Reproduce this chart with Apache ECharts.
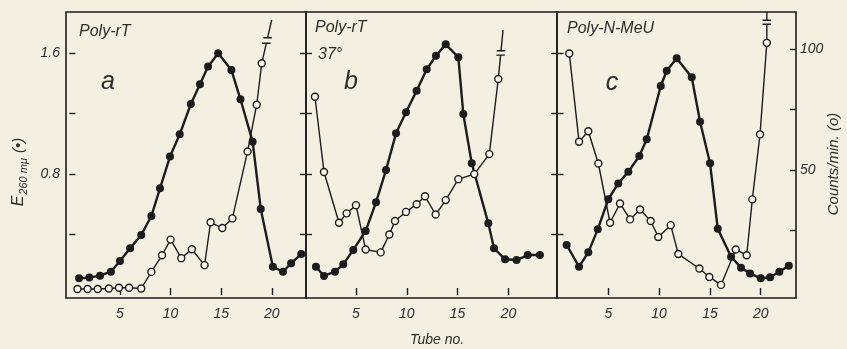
<!DOCTYPE html>
<html>
<head>
<meta charset="utf-8">
<script src="https://cdn.jsdelivr.net/npm/echarts@6/dist/echarts.min.js"></script>
<style>
html,body{margin:0;padding:0;background:#f3efe1;}
#c{width:847px;height:349px;}
</style>
</head>
<body>
<div id="c"></div>
<script>
// ---------- DATA ----------
const tubeTicks = [5, 10, 15, 20];
const eTicks = [0.4, 0.8, 1.2, 1.6];
const eTickLabels = [0.8, 1.6];
const countTicks = [25, 50, 75, 100];
const countTickLabels = [50, 100];

// Panel a: Poly-rT
const aTubeE = [0.96,1.97,3.03,4.1,5.0,6.0,7.1,8.1,8.95,9.94,10.9,12.0,12.9,13.7,14.7,16.0,16.9,18.1,18.9,20.1,21.1,21.9,22.9];
const aE     = [0.11,0.115,0.128,0.154,0.225,0.309,0.397,0.522,0.705,0.915,1.062,1.263,1.393,1.51,1.598,1.488,1.294,1.014,0.569,0.187,0.154,0.21,0.271];
const aTubeC = [0.8,1.8,2.8,3.9,4.9,5.9,7.1,8.1,9.15,10.0,11.05,12.1,13.35,13.95,15.1,16.1,17.6,18.5,19.0];
const aC     = [0.5,0.5,0.5,0.7,1.0,1.0,0.7,7.6,14.5,21,13.3,17,10.4,28.2,25.8,29.8,57.6,77,94.2];
const aBreakTube   = [19.0, 19.45, 19.58, 19.98];
const aBreakCounts = [94.2, 102.5, 104.8, 112.2];

// Panel b: Poly-rT 37°
const bTubeE = [1.06,1.85,2.93,3.75,4.73,5.95,6.97,7.95,8.94,9.92,10.97,11.96,12.87,13.83,15.07,15.56,16.39,18.02,18.58,19.67,20.8,21.9,23.1];
const bE     = [0.187,0.126,0.154,0.203,0.298,0.423,0.613,0.826,1.069,1.208,1.351,1.492,1.582,1.657,1.572,1.197,0.871,0.474,0.309,0.236,0.231,0.264,0.264];
const bTubeC = [0.96,1.85,3.33,4.08,5.0,5.95,7.43,8.28,8.84,9.92,10.97,11.79,12.84,13.83,15.07,16.64,18.12,19.0];
const bC     = [80.3,49.1,28,31.9,35.3,16.9,15.7,23.1,28.7,32.5,35.7,39,31.4,37.4,46.1,48.2,56.5,87.7];
const bBreakTube   = [19.0, 19.23, 19.27, 19.47];
const bBreakCounts = [87.7, 97.6, 99.4, 108];

// Panel c: Poly-N-MeU
const cTubeE = [0.9,2.12,3.03,3.96,5.0,5.98,6.97,8.05,8.78,10.16,10.75,11.73,13.21,14.03,15.01,15.77,17.08,18.06,18.95,20.0,20.92,21.83,22.76];
const cE     = [0.331,0.187,0.282,0.434,0.633,0.738,0.815,0.919,1.029,1.382,1.483,1.565,1.439,1.146,0.871,0.438,0.253,0.181,0.143,0.110,0.117,0.154,0.194];
const cTubeC = [1.16,2.12,3.03,4.02,5.17,6.15,7.14,8.12,9.17,9.92,11.14,11.89,13.96,14.94,16.09,17.54,18.62,19.17,19.93,20.6];
const cC     = [98.3,61.6,66,52.6,28,36,29.4,33.5,28.7,22.1,27,15,9,5.5,2.2,16.9,14.5,37.7,64.7,102.7];
const cBreakTube   = [20.6, 20.6, 20.6, 20.6];
const cBreakCounts = [102.7, 110.4, 112.1, 115.5];

// ---------- LAYOUT / STYLE ----------
const FONT = "'Liberation Sans','DejaVu Sans',sans-serif";
const INK = '#1c1c1c';
const TXT = '#2c2c2c';
const BG = '#f3efe1';
const eMin = -0.0198, eMax = 1.871;
const cMin = -3.24, cMax = 115.5;
const barHalf = 0.42;
const panels = [
  {left: 66,  width: 240, xmin: -0.33, xmax: 23.37, tE: aTubeE, vE: aE, tC: aTubeC, vC: aC, bt: aBreakTube, bc: aBreakCounts},
  {left: 306, width: 251, xmin: 0.08,  xmax: 24.78, tE: bTubeE, vE: bE, tC: bTubeC, vC: bC, bt: bBreakTube, bc: bBreakCounts},
  {left: 557, width: 239, xmin: -0.05, xmax: 23.47, tE: cTubeE, vE: cE, tC: cTubeC, vC: cC, bt: cBreakTube, bc: cBreakCounts}
];
const eAsCounts = eTicks.map(e => (e - eMin) / (eMax - eMin) * (cMax - cMin) + cMin);

const zip = (xs, ys) => xs.map((x, i) => [x, ys[i]]);
const tickLine = {color: INK, width: 1.4};
const labelStyle = {fontFamily: FONT, fontStyle: 'italic', fontSize: 14, color: TXT};

const grids = [], xAxes = [], yAxes = [], series = [];
panels.forEach((p, i) => {
  grids.push({left: p.left, top: 12, width: p.width, height: 286, show: true,
    borderColor: INK, borderWidth: 1.6, backgroundColor: 'transparent', containLabel: false});
  xAxes.push({type: 'value', gridIndex: i, min: p.xmin, max: p.xmax,
    axisLine: {show: false}, splitLine: {show: false},
    axisTick: {show: true, inside: true, length: 7, customValues: tubeTicks, lineStyle: tickLine},
    axisLabel: Object.assign({show: true, margin: 9, customValues: tubeTicks}, labelStyle)});
  yAxes.push({type: 'value', gridIndex: i, position: 'left', min: eMin, max: eMax,
    axisLine: {show: false}, splitLine: {show: false},
    axisTick: {show: true, inside: true, length: 6, customValues: eTicks, lineStyle: tickLine},
    axisLabel: Object.assign({show: i === 0, margin: 6, customValues: eTickLabels,
      formatter: v => Number(v).toFixed(1)}, labelStyle)});
  yAxes.push({type: 'value', gridIndex: i, position: 'right', min: cMin, max: cMax,
    axisLine: {show: false}, splitLine: {show: false},
    axisTick: {show: true, inside: true, length: 6, customValues: i === 2 ? countTicks : eAsCounts, lineStyle: tickLine},
    axisLabel: Object.assign({show: i === 2, margin: 4, customValues: countTickLabels}, labelStyle)});
  const yE = 2 * i, yC = 2 * i + 1;
  series.push({type: 'line', xAxisIndex: i, yAxisIndex: yE, data: zip(p.tE, p.vE),
    symbol: 'circle', symbolSize: 8, z: 3,
    lineStyle: {color: INK, width: 2.4}, itemStyle: {color: INK}});
  series.push({type: 'line', xAxisIndex: i, yAxisIndex: yC, data: zip(p.tC, p.vC),
    symbol: 'circle', symbolSize: 7, z: 4,
    lineStyle: {color: INK, width: 1.4}, itemStyle: {color: '#f8f5ea', borderColor: INK, borderWidth: 1.4}});
  // break in the off-scale counts line: two segments plus two short bars
  const bt = p.bt, bc = p.bc;
  [[[bt[0], bc[0]], [bt[1], bc[1]]], [[bt[2], bc[2]], [bt[3], bc[3]]],
   [[bt[1] - barHalf, bc[1]], [bt[1] + barHalf, bc[1]]], [[bt[2] - barHalf, bc[2]], [bt[2] + barHalf, bc[2]]]]
    .forEach(seg => series.push({type: 'line', xAxisIndex: i, yAxisIndex: yC, data: seg,
      symbol: 'none', z: 2, lineStyle: {color: INK, width: 1.4}}));
});

const txt = (text, x, y, size, extra) => Object.assign({type: 'text', x: x, y: y, silent: true,
  style: Object.assign({text: text, fontFamily: FONT, fontStyle: 'italic', fontSize: size, fill: TXT,
    textAlign: 'left', textVerticalAlign: 'middle'}, extra || {})});

const chart = echarts.init(document.getElementById('c'), null, {renderer: 'canvas'});
chart.setOption({
  animation: false,
  backgroundColor: BG,
  grid: grids, xAxis: xAxes, yAxis: yAxes, series: series,
  graphic: [
    txt('Poly-rT', 79, 31.5, 16),
    txt('Poly-rT', 315, 28, 16),
    txt('37°', 318, 55, 16),
    txt('Poly-N-MeU', 567, 28.5, 16),
    txt('a', 108, 82, 25, {textAlign: 'center'}),
    txt('b', 351, 82, 25, {textAlign: 'center'}),
    txt('c', 612, 83, 25, {textAlign: 'center'}),
    txt('Tube no.', 437, 340, 14, {textAlign: 'center'}),
    Object.assign(txt('Counts/min. (o)', 834, 164, 15, {textAlign: 'center'}), {rotation: Math.PI / 2}),
    Object.assign(txt('{e|E}{s|260 mμ} (•)', 19, 172, 15, {textAlign: 'center',
      rich: {e: {fontFamily: FONT, fontStyle: 'italic', fontSize: 16, fill: TXT},
             s: {fontFamily: FONT, fontStyle: 'italic', fontSize: 11, fill: TXT, padding: [9, 1, 0, 1]}}}),
      {rotation: Math.PI / 2})
  ]
});
</script>
</body>
</html>
